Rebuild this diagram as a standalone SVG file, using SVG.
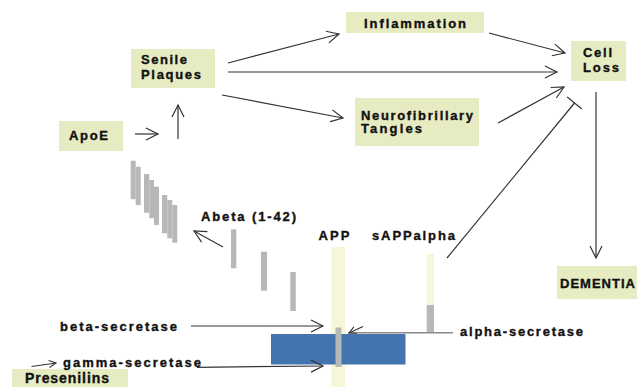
<svg xmlns="http://www.w3.org/2000/svg" width="637" height="387" viewBox="0 0 637 387">
<defs>
<style>
.box{fill:#e6ebc1}
.t{font-family:"Liberation Sans",Arial,sans-serif;font-weight:bold;font-size:13px;fill:#111;stroke:#111;stroke-width:0.35}
.c{fill:none;stroke:#333;stroke-width:1.2}
.bar{fill:#b8b8b8}
.app{fill:#f6f6d9}
</style>
<marker id="ah" markerUnits="userSpaceOnUse" markerWidth="16" markerHeight="16" refX="13" refY="7" orient="auto" viewBox="0 0 16 16"><path d="M1,1 L13,7 L1,13" fill="none" stroke="#333" stroke-width="1.2"/></marker>
<marker id="ahs" markerUnits="userSpaceOnUse" markerWidth="10" markerHeight="10" refX="8" refY="4.5" orient="auto" viewBox="0 0 10 10"><path d="M1,1 L8,4.5 L1,8" fill="none" stroke="#333" stroke-width="1.1"/></marker>
<marker id="tbar" markerUnits="userSpaceOnUse" markerWidth="4" markerHeight="22" refX="1" refY="10" orient="auto" viewBox="0 0 4 22"><path d="M1,0.5 V19.5" fill="none" stroke="#333" stroke-width="1.2"/></marker>
</defs>

<g id="fragments">
<rect class="bar" x="130.7" y="160.7" width="5" height="38.5"/>
<rect class="bar" x="135.7" y="166.7" width="5" height="38.3"/>
<rect class="bar" x="144" y="174" width="5.3" height="38.7"/>
<rect class="bar" x="149.3" y="180" width="4.7" height="38.3"/>
<rect class="bar" x="154" y="186.7" width="5" height="38.3"/>
<rect class="bar" x="162" y="195" width="5.3" height="38.3"/>
<rect class="bar" x="167.3" y="200" width="5" height="38.3"/>
<rect class="bar" x="172.3" y="205" width="5" height="37.7"/>
<rect class="bar" x="231" y="229.3" width="5.3" height="39"/>
<rect class="bar" x="261" y="251.7" width="6" height="39"/>
<rect class="bar" x="290.3" y="272" width="5.5" height="39"/>
</g>

<g id="membrane">
<rect class="app" x="331.5" y="247" width="13.5" height="140"/>
<rect x="271" y="334" width="134.5" height="30.5" fill="#4474b0"/>
<rect class="bar" x="335.5" y="327.5" width="6" height="39.5"/>
<rect class="app" x="426.7" y="254" width="7.3" height="51"/>
<rect class="bar" x="426.7" y="305" width="7.3" height="27"/>
<line x1="348" y1="332.8" x2="453" y2="332.8" stroke="#888" stroke-width="1.6"/>
</g>

<g id="connectors">
<line class="c" x1="135" y1="134" x2="158" y2="134" marker-end="url(#ah)"/>
<line class="c" x1="178" y1="139" x2="178" y2="105" marker-end="url(#ah)"/>
<line class="c" x1="228" y1="63" x2="339" y2="34" marker-end="url(#ah)"/>
<line class="c" x1="228" y1="72" x2="557" y2="72" marker-end="url(#ah)"/>
<line class="c" x1="222" y1="95" x2="343" y2="118" marker-end="url(#ah)"/>
<line class="c" x1="489" y1="33" x2="565" y2="53" marker-end="url(#ah)"/>
<line class="c" x1="498" y1="123" x2="564" y2="87" marker-end="url(#ah)"/>
<line class="c" x1="447" y1="258" x2="574.5" y2="103" marker-end="url(#tbar)"/>
<line class="c" x1="596" y1="92" x2="596" y2="258" marker-end="url(#ah)"/>
<line class="c" x1="223" y1="247" x2="194" y2="231" marker-end="url(#ah)"/>
<line class="c" x1="191" y1="326" x2="323" y2="326" marker-end="url(#ah)"/>
<line class="c" x1="197" y1="367.3" x2="323" y2="366" marker-end="url(#ah)"/>
<line class="c" x1="363" y1="326.5" x2="349" y2="333" marker-end="url(#ahs)"/>
<line class="c" x1="31.5" y1="366.5" x2="56" y2="363" marker-end="url(#ahs)"/>
</g>

<g id="senile-plaques">
<rect class="box" x="131" y="49" width="84" height="39"/>
<text class="t" x="141" y="64" textLength="46" lengthAdjust="spacing">Senile</text>
<text class="t" x="141" y="79" textLength="60" lengthAdjust="spacing">Plaques</text>
</g>
<g id="apoe">
<rect class="box" x="59" y="121" width="64" height="30"/>
<text class="t" x="69" y="139.5" textLength="39" lengthAdjust="spacing">ApoE</text>
</g>
<g id="inflammation">
<rect class="box" x="346" y="12" width="138" height="21"/>
<text class="t" x="364" y="27.5" textLength="102" lengthAdjust="spacing">Inflammation</text>
</g>
<g id="cell-loss">
<rect class="box" x="571" y="41" width="55" height="40"/>
<text class="t" x="583" y="57" textLength="29" lengthAdjust="spacing">Cell</text>
<text class="t" x="583" y="72" textLength="36" lengthAdjust="spacing">Loss</text>
</g>
<g id="neurofibrillary-tangles">
<rect class="box" x="355" y="98" width="124" height="48"/>
<text class="t" x="361" y="119.5" textLength="112" lengthAdjust="spacing">Neurofibrillary</text>
<text class="t" x="361" y="133" textLength="61" lengthAdjust="spacing">Tangles</text>
</g>
<g id="dementia">
<rect class="box" x="557" y="266" width="90" height="33"/>
<text class="t" x="560" y="288" textLength="75" lengthAdjust="spacing">DEMENTIA</text>
</g>
<g id="presenilins">
<rect class="box" x="12" y="369" width="116" height="20"/>
<text class="t" x="25" y="382.5" style="font-size:14px" textLength="84" lengthAdjust="spacing">Presenilins</text>
</g>
<g id="abeta">
<text class="t" x="201" y="221" textLength="95" lengthAdjust="spacing">Abeta (1-42)</text>
</g>
<g id="app">
<text class="t" x="318.5" y="240" textLength="31" lengthAdjust="spacing">APP</text>
</g>
<g id="sappalpha">
<text class="t" x="372" y="240" textLength="83" lengthAdjust="spacing">sAPPalpha</text>
</g>
<g id="beta-secretase">
<text class="t" x="60" y="330.5" textLength="117" lengthAdjust="spacing">beta-secretase</text>
</g>
<g id="alpha-secretase">
<text class="t" x="460" y="335.5" textLength="123" lengthAdjust="spacing">alpha-secretase</text>
</g>
<g id="gamma-secretase">
<text class="t" x="63" y="367" textLength="138" lengthAdjust="spacing">gamma-secretase</text>
</g>
</svg>
